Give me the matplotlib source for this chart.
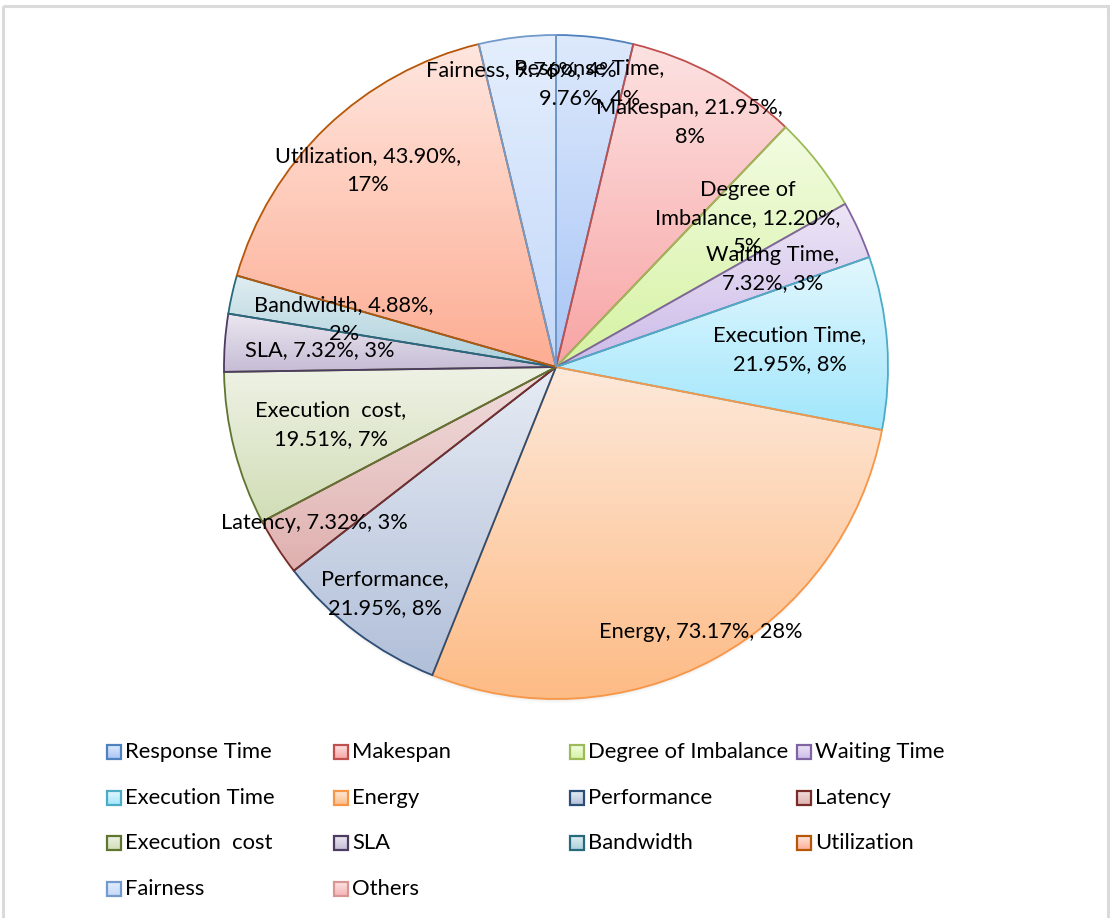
import numpy as np
import matplotlib
matplotlib.use("Agg")
import matplotlib.pyplot as plt
from matplotlib.colors import LinearSegmentedColormap
from matplotlib.patches import Rectangle, Circle

plt.rcParams['font.family'] = ['Lato', 'DejaVu Sans']

# share of papers using each metric (value) -> slice size
categories = ["Response Time", "Makespan", "Degree of Imbalance", "Waiting Time",
              "Execution Time", "Energy", "Performance", "Latency",
              "Execution  cost", "SLA", "Bandwidth", "Utilization", "Fairness", "Others"]
values = [9.76, 21.95, 12.20, 7.32, 21.95, 73.17, 21.95, 7.32,
          19.51, 7.32, 4.88, 43.90, 9.76, 0.0]

# slice label wrapping
label_templates = ["{n},\n{v}, {p}", "{n}, {v},\n{p}", "Degree of\nImbalance, {v},\n{p}",
                   "{n},\n{v}, {p}", "{n},\n{v}, {p}", "{n}, {v}, {p}",
                   "{n},\n{v}, {p}", "{n}, {v}, {p}", "{n},\n{v}, {p}",
                   "{n}, {v}, {p}", "{n}, {v},\n{p}", "{n}, {v},\n{p}",
                   "{n}, {v}, {p}", ""]
label_radius = [0.86, 0.84, 0.73, 0.715, 0.706, 0.91, 0.855, 0.866,
                0.70, 0.715, 0.655, 0.82, 0.90, 0.0]

# gradient fills (top -> bottom) and outlines
top_colors = ["#dde9fc", "#fde2e2", "#f3fce2", "#ede5f6", "#e2f7fe", "#fee9da",
              "#e7ecf4", "#f1dede", "#eef2e5", "#ebe7f0", "#e0edf1", "#ffe6df",
              "#e4eefd", "#fde4e4"]
bottom_colors = ["#a8c5f6", "#f8a4a4", "#d5f2a2", "#ccbbe9", "#a1e6fc", "#fdbb85",
                 "#b1bfd9", "#dfb0ae", "#d1ddb6", "#c6bcd5", "#abd0dc", "#fdad93",
                 "#c3d8f9", "#f5b3b3"]
edge_colors = ["#4f81bd", "#c0504d", "#9bbb59", "#8064a2", "#4bacc6", "#f79646",
               "#2c4d75", "#772c2a", "#5f7530", "#4d3b62", "#276a7c", "#b65708",
               "#729aca", "#d99694"]

W, H = 1110, 918
fig = plt.figure(figsize=(W / 100, H / 100), dpi=100)

# pixel-space layer for the frame and the legend
bg = fig.add_axes([0, 0, 1, 1])
bg.set_xlim(0, W)
bg.set_ylim(H, 0)
bg.axis('off')
bg.add_patch(Rectangle((3, 6), W - 5.5, H, fill=False, edgecolor='#dadada', lw=2.2))

cx, cy, R = 556, 367, 332
half = 350
ax = fig.add_axes([(cx - half) / W, 1 - (cy + half) / H, 2 * half / W, 2 * half / H])

# soft drop shadow
for off, a in [(0.004, 0.06), (0.008, 0.05), (0.012, 0.04)]:
    ax.add_patch(Circle((0, -off), 1.0, facecolor='#808080', edgecolor='none',
                        alpha=a, zorder=0))

wedges, _ = ax.pie(values, startangle=90, counterclock=False, radius=1.0,
                   wedgeprops=dict(linewidth=1.3))

pct = np.array(values) / sum(values) * 100
grad = np.linspace(0, 1, 256).reshape(-1, 1)
for i, w in enumerate(wedges):
    if values[i] <= 0:
        w.set_visible(False)
        continue
    w.set_facecolor('none')
    w.set_edgecolor(edge_colors[i])
    w.set_zorder(3)
    ext = w.get_path().get_extents()
    cmap = LinearSegmentedColormap.from_list("g%d" % i, [top_colors[i], bottom_colors[i]])
    im = ax.imshow(grad, cmap=cmap, extent=[ext.x0, ext.x1, ext.y0, ext.y1],
                   origin='upper', aspect='auto', interpolation='bilinear', zorder=2)
    im.set_clip_path(w)

    mid = np.deg2rad((w.theta1 + w.theta2) / 2)
    txt = label_templates[i].format(n=categories[i], v="%.2f%%" % values[i],
                                    p="%d%%" % round(pct[i]))
    ax.text(label_radius[i] * np.cos(mid), label_radius[i] * np.sin(mid), txt,
            ha='center', va='center', fontsize=15.7, color='#000000',
            linespacing=1.55, zorder=5)

ax.set_aspect('equal')
ax.set_xlim(-half / R, half / R)
ax.set_ylim(-half / R, half / R)
ax.axis('off')

# legend, filled row by row in four columns
col_x = [107, 334, 570, 797]
row_y = [752, 798, 843, 889]
box = 14
for i, name in enumerate(categories):
    x = col_x[i % 4]
    y = row_y[i // 4]
    cmap = LinearSegmentedColormap.from_list("l%d" % i, [top_colors[i], bottom_colors[i]])
    bg.imshow(grad, cmap=cmap, extent=[x, x + box, y + box / 2, y - box / 2],
              aspect='auto', interpolation='bilinear', zorder=2)
    bg.add_patch(Rectangle((x, y - box / 2), box, box, fill=False,
                           edgecolor=edge_colors[i], lw=1.6, zorder=3))
    bg.text(x + box + 4, y, name, ha='left', va='center', fontsize=15.8,
            color='#000000', zorder=3)

bg.set_xlim(0, W)
bg.set_ylim(H, 0)

fig.savefig("out.png", dpi=100)
